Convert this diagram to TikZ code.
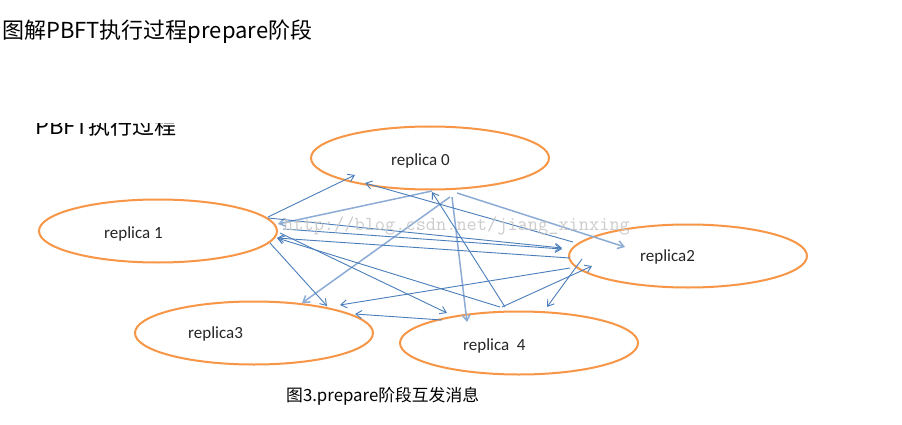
\documentclass[tikz,border=0pt]{standalone}
\usepackage{fontspec}
\setmainfont{Carlito}
\newfontfamily\cjk{Noto Sans CJK SC}
\usetikzlibrary{shapes.geometric,arrows.meta,calc}
\definecolor{rorange}{RGB}{247,150,70}
\definecolor{rblue}{RGB}{74,126,187}
\definecolor{rlight}{RGB}{140,172,214}
\definecolor{wmark}{RGB}{196,196,196}
\tikzset{
  replica/.style={ellipse,draw=rorange,line width=2pt,minimum width=238pt,minimum height=63pt,inner sep=0pt},
  rlabel/.style={anchor=base west,inner sep=0pt,font=\fontsize{17}{20}\selectfont,text=black!85},
  msg/.style={draw=rblue,line width=0.9pt,-{Straight Barb[length=6pt,width=8pt]}},
  pre/.style={draw=rlight,line width=1.5pt,-{Straight Barb[length=6pt,width=8pt]}},
}
\begin{document}
\begin{tikzpicture}[x=1pt,y=-1pt]
\useasboundingbox (0,0) rectangle (902,425);
\fill[white] (0,0) rectangle (902,425);
% title
\node[anchor=base west,inner sep=0pt,font=\cjk\fontsize{22}{26}\selectfont] (title) at (2,39) {图解PBFT执行过程prepare阶段};
% clipped line
\begin{scope}
\clip (30,123.5) rectangle (185,135.5);
\node[anchor=base west,inner sep=0pt,font=\cjk\fontsize{22}{26}\selectfont] (cut) at (35,135) {PBFT执行过程};
\end{scope}
% replicas
\node[replica] (r0) at (430,158) {};
\node[replica] (r1) at (158,231) {};
\node[replica] (r2) at (688,256) {};
\node[replica] (r3) at (254,333) {};
\node[replica] (r4) at (519,343) {};
\node[rlabel] (l0) at (391,165) {replica 0};
\node[rlabel] (l1) at (104,238) {replica 1};
\node[rlabel] (l2) at (640,261) {replica2};
\node[rlabel] (l3) at (188,338) {replica3};
\node[rlabel] (l4) at (463,350) {replica\ \ 4};
% light arrows from replica 0
\draw[pre] ($(r0)+(2,33)$) -- ($(r1)+(120,-7)$);
\draw[pre] ($(r0)+(27,35)$) -- ($(r2)+(-63,-9)$);
\draw[pre] ($(r0)+(20,39)$) -- ($(r3)+(48,-30)$);
\draw[pre] ($(r0)+(22,39)$) -- ($(r4)+(-52,-21)$);
% prepare messages
\draw[msg] ($(r1)+(110,-14)$) -- ($(r0)+(-75,17)$);
\draw[msg] ($(r2)+(-115,-14)$) -- ($(r0)+(-65,25)$);
\draw[msg] ($(r4)+(-14,-36)$) -- ($(r0)+(2,34)$);
\draw[msg] ($(r1)+(110,-13)$) -- ($(r2)+(-126,-8)$);
\draw[msg] ($(r1)+(125,-2)$) -- ($(r2)+(-126,-7)$);
\draw[msg] ($(r2)+(-118,2)$) -- ($(r1)+(119,7)$);
\draw[msg] ($(r4)+(-19,-36)$) -- ($(r1)+(119,7)$);
\draw[msg] ($(r1)+(122,2)$) -- ($(r4)+(-72,-30)$);
\draw[msg] ($(r1)+(112,12)$) -- ($(r3)+(73,-27)$);
\draw[msg] ($(r2)+(-118,12)$) -- ($(r3)+(86,-28)$);
\draw[msg] ($(r4)+(-77,-23)$) -- ($(r3)+(101,-19)$);
\draw[msg] ($(r2)+(-106,3)$) -- ($(r4)+(28,-36)$);
\draw[msg] ($(r4)+(-17,-36)$) -- ($(r2)+(-96,10)$);
% watermark
\node[anchor=base west,inner sep=0pt,text=wmark,opacity=0.85,font=\ttfamily\fontsize{19.8}{22}\selectfont] (wm) at (283,230) {http://blog.csdn.net/jiang\_xinxing};
% caption
\node[anchor=base west,inner sep=0pt,font=\cjk\fontsize{16.8}{20}\selectfont] (cap) at (286,401) {图3.prepare阶段互发消息};
\end{tikzpicture}
\end{document}
